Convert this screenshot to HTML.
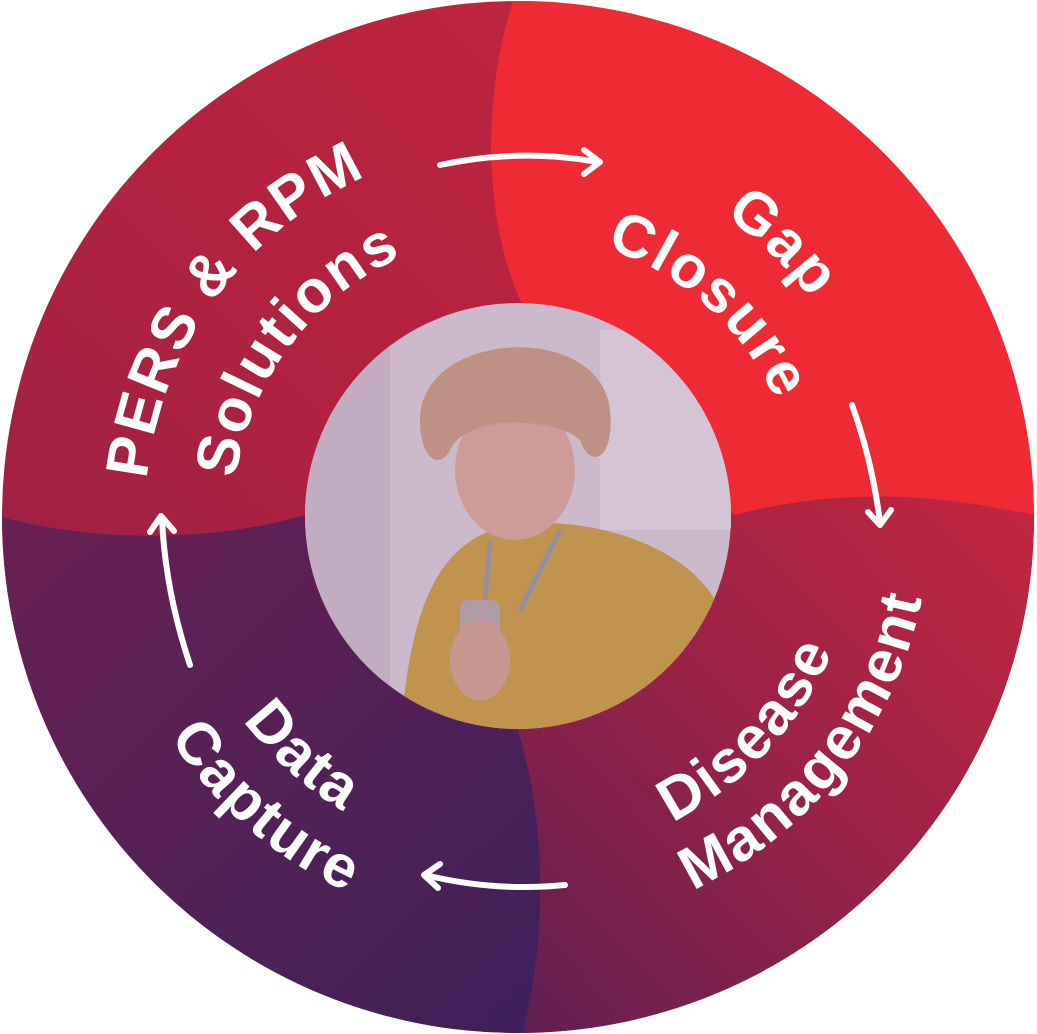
<!DOCTYPE html>
<html><head><meta charset="utf-8"><style>
html,body{margin:0;padding:0;background:#fff;}
svg{display:block;}
text{font-family:"Liberation Sans",sans-serif;font-weight:bold;fill:#fff;font-size:60px;letter-spacing:2px;}
</style></head><body>
<svg width="1037" height="1034" viewBox="0 0 1037 1034" xmlns="http://www.w3.org/2000/svg">
<defs>
<clipPath id="c"><circle cx="518" cy="517" r="516"/></clipPath>
<clipPath id="p"><circle cx="518" cy="516" r="213"/></clipPath>
<linearGradient id="gTL" x1="0" y1="1" x2="1" y2="0"><stop offset="0" stop-color="#8e1f48"/><stop offset="0.5" stop-color="#b2223f"/><stop offset="1" stop-color="#cc263b"/></linearGradient>
<linearGradient id="gBR" x1="1" y1="0" x2="0" y2="1"><stop offset="0" stop-color="#c4263d"/><stop offset="0.5" stop-color="#9a2247"/><stop offset="1" stop-color="#5e1f52"/></linearGradient>
<linearGradient id="gBL" x1="0" y1="0" x2="1" y2="1"><stop offset="0" stop-color="#6a2054"/><stop offset="1" stop-color="#3e205a"/></linearGradient>
<path id="a1" d="M 518 517 m -373 0 A 373 373 0 0 1 891 517"/>
<path id="a2" d="M 518 517 m -285 0 A 285 285 0 0 1 803 517"/>
<path id="a3" d="M 518 517 m -365 0 A 365 365 0 0 1 883 517"/>
<path id="a4" d="M 518 517 m -283 0 A 283 283 0 0 1 801 517"/>
<path id="a5" d="M 518 517 m 412 0 A 412 412 0 0 0 106 517"/>
<path id="a6" d="M 518 517 m 342 0 A 342 342 0 0 0 176 517"/>
</defs>
<g clip-path="url(#c)">
<rect width="1037" height="1034" fill="url(#gTL)"/>
<path d="M 515 -5 C 480 100, 485 220, 520 300 L 735 515 C 830 490, 930 490, 1045 518 L 1045 -5 Z" fill="#ee2a35"/>
<path d="M 735 515 C 830 490, 930 490, 1045 518 L 1045 1045 L 520 1045 C 550 930, 545 820, 518 730 Z" fill="url(#gBR)"/>
<path d="M -5 515 C 100 545, 220 540, 305 515 L 518 730 C 545 820, 550 930, 520 1045 L -5 1045 Z" fill="url(#gBL)"/>
</g>
<g clip-path="url(#p)">
<rect x="300" y="300" width="440" height="440" fill="#d8ccd8"/>
<rect x="300" y="300" width="90" height="440" fill="#cbbccb"/>
<rect x="600" y="330" width="140" height="200" fill="#e2d8e2"/>
<path d="M 400 740 C 410 600, 440 540, 510 525 C 580 515, 680 540, 715 600 L 740 740 Z" fill="#caa049"/>
<ellipse cx="515" cy="470" rx="60" ry="70" fill="#d9aa9c"/>
<path d="M 420 420 C 420 330, 600 320, 610 410 C 615 460, 590 470, 580 440 C 560 420, 470 410, 450 450 C 440 470, 420 460, 420 420 Z" fill="#c99c86"/>
<path d="M 490 540 L 485 600 M 560 530 L 520 610" stroke="#9a9aa4" stroke-width="5" fill="none"/>
<rect x="460" y="600" width="40" height="50" rx="8" fill="#b8a9ad"/>
<ellipse cx="480" cy="660" rx="30" ry="40" fill="#d3a394"/>
<rect x="300" y="300" width="440" height="440" fill="#7a3a7a" opacity="0.12"/>
</g>
<g transform="rotate(-54 518 517)"><text><textPath href="#a1" startOffset="50%" text-anchor="middle">PERS &amp; RPM</textPath></text></g>
<g transform="rotate(-53 518 517)"><text><textPath href="#a2" startOffset="50%" text-anchor="middle">Solutions</textPath></text></g>
<g transform="rotate(44 518 517)"><text><textPath href="#a3" startOffset="50%" text-anchor="middle">Gap</textPath></text></g>
<g transform="rotate(42 518 517)"><text><textPath href="#a4" startOffset="50%" text-anchor="middle">Closure</textPath></text></g>
<g transform="rotate(128 518 517)"><text><textPath href="#a5" startOffset="50%" text-anchor="middle">Management</textPath></text></g>
<g transform="rotate(133 518 517)"><text><textPath href="#a6" startOffset="50%" text-anchor="middle">Disease</textPath></text></g>
<g transform="rotate(221 518 517)"><text><textPath href="#a5" startOffset="50%" text-anchor="middle">Capture</textPath></text></g>
<g transform="rotate(222 518 517)"><text><textPath href="#a6" startOffset="50%" text-anchor="middle">Data</textPath></text></g>
<g fill="none" stroke="#fff" stroke-width="6" stroke-linecap="round" stroke-linejoin="round">
<path d="M 440 165 Q 520 148 598 162"/><path d="M 584 150 L 600 162 L 584 174"/>
<path d="M 852 405 Q 872 460 880 522"/><path d="M 868 512 L 880 525 L 891 510"/>
<path d="M 565 885 Q 495 892 425 875"/><path d="M 440 864 L 424 875 L 438 888"/>
<path d="M 190 665 Q 165 590 162 518"/><path d="M 150 532 L 161 516 L 174 531"/>
</g>
</svg>
</body></html>
